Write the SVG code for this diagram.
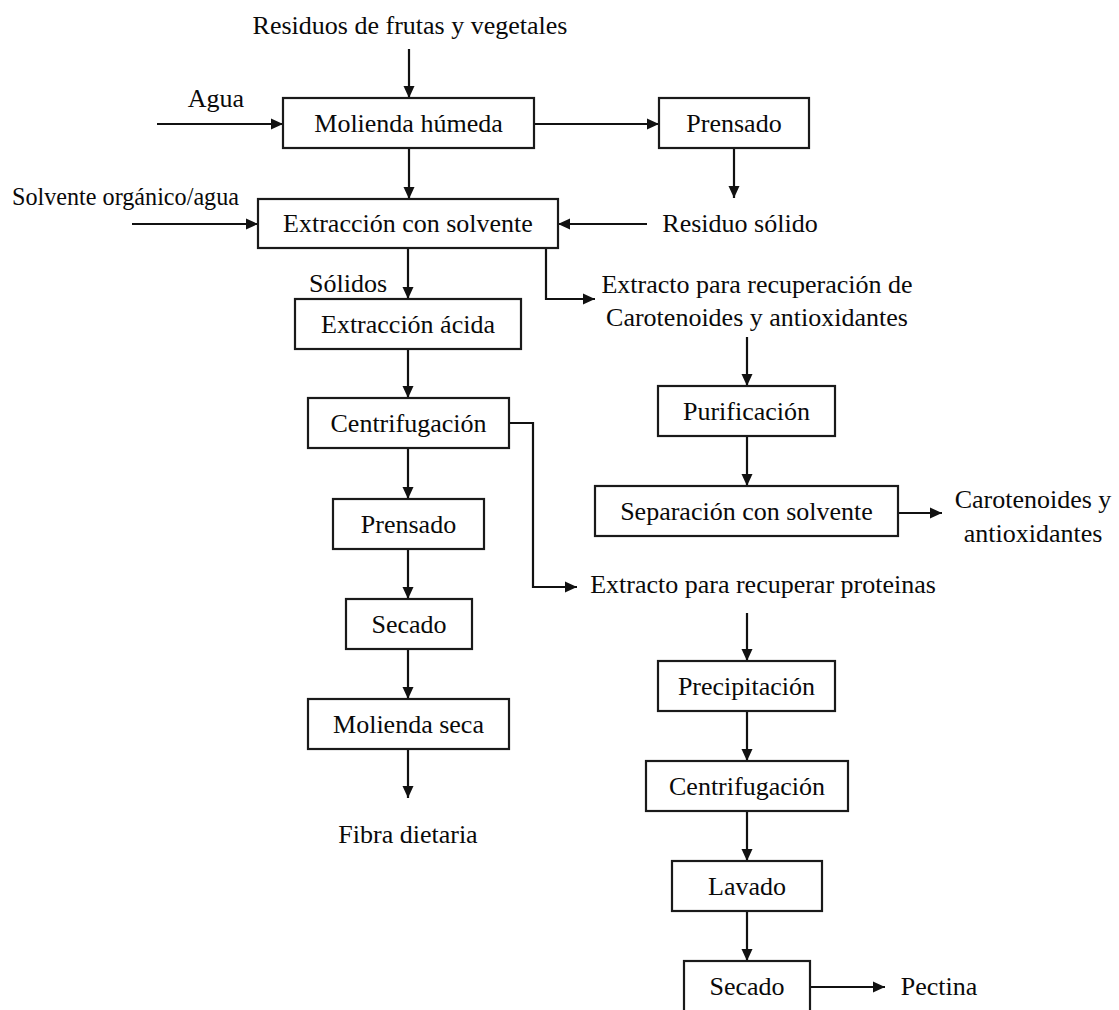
<svg xmlns="http://www.w3.org/2000/svg" width="1119" height="1010" viewBox="0 0 1119 1010">
<style>
.box{fill:#fff;stroke:#1a1a1a;stroke-width:2.2}
.t{font-family:"Liberation Serif","Times New Roman",serif;font-size:26px;fill:#0a0a0a;text-anchor:middle}
.c{fill:none;stroke:#111;stroke-width:2.2}
</style>
<defs>
<marker id="ah" markerUnits="userSpaceOnUse" markerWidth="14" markerHeight="12" refX="12" refY="6" orient="auto">
<path d="M0,0.5 L12,6 L0,11.5 z" fill="#111"/>
</marker>
</defs>
<rect width="1119" height="1010" fill="#fff"/>
<g id="connectors">
<path class="c" d="M409,49 V98" marker-end="url(#ah)"/>
<path class="c" d="M157,124 H283" marker-end="url(#ah)"/>
<path class="c" d="M534,124 H659" marker-end="url(#ah)"/>
<path class="c" d="M734,148 V198" marker-end="url(#ah)"/>
<path class="c" d="M647,224 H558" marker-end="url(#ah)"/>
<path class="c" d="M132,224 H258" marker-end="url(#ah)"/>
<path class="c" d="M409,148 V199" marker-end="url(#ah)"/>
<path class="c" d="M408,248 V299" marker-end="url(#ah)"/>
<path class="c" d="M546,248 V299 H595" marker-end="url(#ah)"/>
<path class="c" d="M747,337 V386" marker-end="url(#ah)"/>
<path class="c" d="M747,436 V486" marker-end="url(#ah)"/>
<path class="c" d="M898,513 H942" marker-end="url(#ah)"/>
<path class="c" d="M408,349 V398" marker-end="url(#ah)"/>
<path class="c" d="M509,423 H533 V587 H577" marker-end="url(#ah)"/>
<path class="c" d="M408,448 V499" marker-end="url(#ah)"/>
<path class="c" d="M408,549 V599" marker-end="url(#ah)"/>
<path class="c" d="M408,649 V699" marker-end="url(#ah)"/>
<path class="c" d="M408,749 V798" marker-end="url(#ah)"/>
<path class="c" d="M747,613 V661" marker-end="url(#ah)"/>
<path class="c" d="M747,711 V761" marker-end="url(#ah)"/>
<path class="c" d="M747,811 V861" marker-end="url(#ah)"/>
<path class="c" d="M747,911 V961" marker-end="url(#ah)"/>
<path class="c" d="M810,987 H885" marker-end="url(#ah)"/>
</g>
<g id="in-residuos"><text class="t" x="410" y="34">Residuos de frutas y vegetales</text></g>
<g id="in-agua"><text class="t" x="216" y="107">Agua</text></g>
<g id="molienda-humeda"><rect class="box" x="283" y="98" width="251" height="50"/><text class="t" x="408.5" y="132">Molienda húmeda</text></g>
<g id="prensado-1"><rect class="box" x="659" y="98" width="150" height="50"/><text class="t" x="734" y="132">Prensado</text></g>
<g id="residuo-solido"><text class="t" x="740" y="232">Residuo sólido</text></g>
<g id="in-solvente"><text class="t" x="125.5" y="205" textLength="227" lengthAdjust="spacingAndGlyphs">Solvente orgánico/agua</text></g>
<g id="extraccion-solvente"><rect class="box" x="258" y="199" width="300" height="49"/><text class="t" x="408" y="232">Extracción con solvente</text></g>
<g id="solidos"><text class="t" x="348" y="292">Sólidos</text></g>
<g id="extracto-carotenoides"><text class="t" x="757" y="293">Extracto para recuperación de</text><text class="t" x="757" y="326">Carotenoides y antioxidantes</text></g>
<g id="extraccion-acida"><rect class="box" x="295" y="299" width="226" height="50"/><text class="t" x="408" y="333">Extracción ácida</text></g>
<g id="centrifugacion-1"><rect class="box" x="308" y="398" width="201" height="50"/><text class="t" x="408.5" y="432">Centrifugación</text></g>
<g id="purificacion"><rect class="box" x="658" y="386" width="177" height="50"/><text class="t" x="746.5" y="420">Purificación</text></g>
<g id="separacion"><rect class="box" x="595" y="486" width="303" height="50"/><text class="t" x="746.5" y="520">Separación con solvente</text></g>
<g id="out-carotenoides"><text class="t" x="1033" y="508">Carotenoides y</text><text class="t" x="1033" y="542">antioxidantes</text></g>
<g id="extracto-proteinas"><text class="t" x="763" y="593">Extracto para recuperar proteinas</text></g>
<g id="prensado-2"><rect class="box" x="333" y="499" width="151" height="50"/><text class="t" x="408.5" y="533">Prensado</text></g>
<g id="secado-1"><rect class="box" x="346" y="599" width="126" height="50"/><text class="t" x="409" y="633">Secado</text></g>
<g id="molienda-seca"><rect class="box" x="308" y="699" width="201" height="50"/><text class="t" x="408.5" y="733">Molienda seca</text></g>
<g id="fibra"><text class="t" x="408" y="843">Fibra dietaria</text></g>
<g id="precipitacion"><rect class="box" x="658" y="661" width="177" height="50"/><text class="t" x="746.5" y="695">Precipitación</text></g>
<g id="centrifugacion-2"><rect class="box" x="646" y="761" width="202" height="50"/><text class="t" x="747" y="795">Centrifugación</text></g>
<g id="lavado"><rect class="box" x="672" y="861" width="150" height="50"/><text class="t" x="747" y="895">Lavado</text></g>
<g id="secado-2"><rect class="box" x="684" y="961" width="126" height="52"/><text class="t" x="747" y="995">Secado</text></g>
<g id="pectina"><text class="t" x="939" y="995">Pectina</text></g>
</svg>
